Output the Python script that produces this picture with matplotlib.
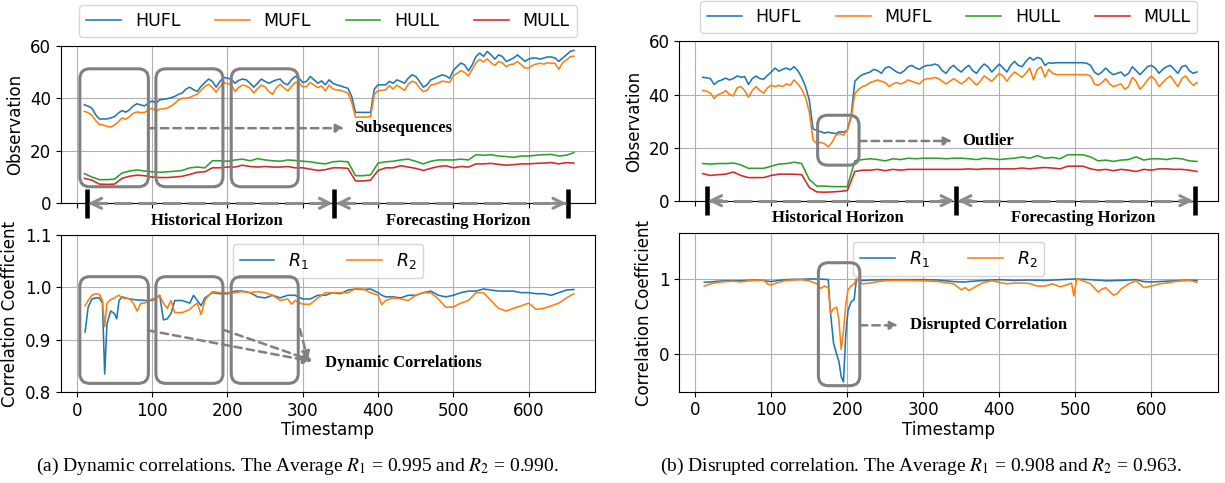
import numpy as np
import matplotlib
matplotlib.use('Agg')
import matplotlib.pyplot as plt
from matplotlib.patches import FancyBboxPatch

# timestamps
t5 = np.arange(10, 661, 5)
t10 = np.arange(10, 661, 10)

# (a) observations
hufl_a = [37.5, 37.0, 36.2, 33.7, 32.1, 32.1, 32.1, 32.5, 33.0, 34.3,
          35.3, 34.7, 35.6, 37.1, 37.9, 37.4, 37.1, 38.1, 39.0, 38.1,
          39.4, 39.6, 39.8, 40.2, 40.7, 41.5, 42.0, 43.5, 44.2, 43.2,
          42.6, 44.5, 46.0, 47.3, 46.4, 44.2, 46.4, 48.0, 47.6, 47.3,
          45.7, 46.8, 47.3, 47.0, 45.7, 44.2, 45.7, 47.3, 46.4, 45.7,
          46.4, 47.0, 47.3, 45.7, 45.1, 47.0, 48.3, 47.6, 46.0, 46.4,
          48.3, 47.0, 45.7, 46.6, 45.1, 47.0, 45.7, 45.1, 44.7, 44.2,
          43.8, 40.7, 34.6, 34.6, 34.6, 34.6, 34.6, 43.5, 45.1, 45.1,
          45.1, 46.4, 45.7, 47.0, 46.4, 45.7, 47.6, 48.9, 48.3, 46.4,
          44.2, 45.1, 47.0, 47.6, 48.3, 48.9, 48.5, 47.6, 50.6, 52.1,
          53.4, 52.7, 50.4, 52.7, 55.9, 57.2, 55.9, 57.8, 56.5, 54.9,
          56.5, 55.9, 54.0, 54.6, 55.3, 56.5, 55.3, 54.0, 54.9, 55.3,
          55.3, 54.9, 55.3, 55.7, 55.7, 55.3, 54.0, 55.3, 56.5, 57.8,
          58.2]
mufl_a = [35.0, 34.5, 33.5, 31.5, 30.0, 29.8, 29.3, 29.0, 29.8, 31.0,
          32.5, 32.0, 33.0, 34.3, 34.8, 34.5, 34.6, 35.5, 36.2, 35.2,
          35.8, 36.0, 36.2, 37.0, 38.0, 39.3, 40.0, 40.0, 40.3, 41.0,
          41.5, 43.0, 44.5, 45.3, 44.0, 42.3, 44.3, 46.0, 45.5, 45.2,
          42.5, 44.2, 45.0, 44.7, 43.8, 42.0, 43.7, 45.0, 44.3, 42.5,
          41.5, 44.0, 45.3, 44.0, 42.8, 44.5, 46.0, 45.8, 44.3, 44.5,
          46.0, 45.0, 44.0, 44.7, 42.8, 45.0, 43.5, 43.2, 43.0, 42.5,
          42.0, 38.5, 32.8, 32.8, 32.8, 32.8, 33.0, 41.5, 42.8, 43.0,
          43.2, 44.8, 43.5, 45.0, 44.0, 43.0, 45.3, 46.5, 46.0, 44.0,
          42.5, 43.0, 45.0, 45.3, 45.8, 46.5, 46.3, 46.0, 48.5, 49.5,
          50.5, 49.8, 48.5, 51.0, 53.5, 54.8, 53.8, 55.0, 53.5, 52.5,
          54.0, 53.5, 52.0, 52.8, 53.0, 54.0, 52.8, 51.5, 51.5, 52.5,
          53.0, 53.3, 53.0, 53.5, 53.3, 53.3, 51.0, 53.5, 54.5, 55.8,
          56.0]
hull_a = [11.3, 10.0, 9.0, 9.0, 9.2, 11.5, 12.3, 12.7, 12.3, 12.0,
          11.8, 12.0, 12.2, 12.5, 13.5, 13.8, 13.5, 16.2, 16.2, 16.0,
          16.5, 16.8, 16.2, 17.0, 16.5, 16.2, 16.0, 16.5, 16.3, 16.0,
          15.8, 15.3, 15.0, 15.8, 16.0, 15.8, 10.5, 10.5, 10.8, 15.3,
          15.8, 16.0, 16.5, 16.8, 16.0, 15.0, 16.0, 16.5, 16.5, 16.5,
          16.8, 16.5, 18.5, 18.3, 18.5, 18.0, 17.8, 17.5, 18.0, 18.0,
          18.3, 18.5, 18.6, 18.0, 18.3, 19.3]
mull_a = [9.5, 8.8, 7.3, 7.2, 7.3, 9.5, 10.3, 10.7, 10.5, 10.0,
          9.8, 9.8, 10.0, 10.3, 11.0, 11.8, 12.0, 13.5, 13.5, 13.8,
          13.8, 14.5, 14.0, 13.8, 14.0, 13.8, 13.8, 14.0, 13.5, 13.5,
          13.0, 12.5, 12.8, 13.5, 13.5, 13.3, 8.5, 8.5, 8.8, 12.5,
          13.5, 13.5, 14.3, 13.8, 13.3, 12.5, 13.3, 14.0, 14.3, 13.5,
          14.0, 13.8, 15.0, 15.0, 15.2, 14.8, 14.5, 14.7, 15.0, 15.0,
          15.2, 15.3, 15.5, 15.0, 15.5, 15.3]

# (b) observations
hufl_b = [46.5, 46.3, 46.0, 43.8, 45.0, 45.5, 46.2, 45.5, 46.0, 47.0,
          46.5, 46.8, 43.8, 46.0, 47.0, 46.0, 45.8, 47.2, 48.5, 50.0,
          48.8, 49.5, 50.0, 49.3, 50.5, 49.0, 46.5, 43.0, 38.0, 27.0,
          26.5, 26.0, 25.5, 25.8, 25.5, 25.3, 26.0, 25.8, 26.5, 32.0,
          45.0, 46.5, 47.5, 48.0, 48.5, 49.5, 49.0, 48.0, 50.0, 50.5,
          49.5, 48.5, 48.0, 49.0, 50.5, 51.0, 50.0, 49.5, 50.5, 51.0,
          51.0, 51.5, 51.0, 49.0, 48.0, 50.0, 51.0, 49.5, 48.5, 50.0,
          51.0, 49.0, 48.0, 50.0, 51.5, 50.5, 48.5, 50.0, 51.5, 50.0,
          48.5, 51.0, 52.5, 51.0, 50.5, 52.5, 54.0, 53.0, 54.0, 53.5,
          51.0, 52.0, 51.8, 52.0, 52.0, 52.0, 52.0, 52.0, 52.0, 52.0,
          52.0, 51.8, 51.0, 48.5, 47.5, 48.5, 50.0, 48.5, 47.5, 48.0,
          48.5, 47.0, 48.0, 50.5, 49.0, 47.5, 49.0, 50.5, 51.0, 50.0,
          48.0, 49.5, 50.5, 51.0, 49.5, 48.0, 50.5, 51.0, 49.0, 48.0,
          48.5]
mufl_b = [41.5, 41.3, 40.5, 38.5, 40.0, 40.5, 41.5, 40.0, 39.5, 42.5,
          43.0, 41.5, 39.0, 41.5, 43.0, 41.5, 40.5, 42.5, 43.5, 43.0,
          43.5, 43.0, 44.0, 43.5, 45.5, 44.0, 42.0, 39.0, 33.5, 22.8,
          21.5, 22.0, 21.5, 20.3, 22.0, 24.7, 25.3, 24.7, 26.6, 31.0,
          40.4, 42.0, 43.0, 43.5, 44.5, 45.0, 45.5, 45.0, 44.5, 43.0,
          44.0, 44.5, 44.0, 44.5, 45.5, 45.0, 44.5, 44.0, 45.5, 46.0,
          46.0, 46.5, 46.0, 45.0, 44.0, 45.0, 46.0, 45.0, 44.0, 45.0,
          46.5, 45.0, 43.5, 45.0, 47.0, 46.0, 45.0, 46.5, 48.0, 47.0,
          45.0, 47.0, 48.5, 47.5, 46.5, 48.0, 50.0, 45.5, 49.5, 50.5,
          46.5, 49.5, 48.0, 47.5, 47.5, 47.5, 47.5, 47.5, 47.5, 47.5,
          47.5, 47.5, 47.0, 44.0, 43.5, 44.5, 46.0, 44.0, 43.0, 43.5,
          44.0, 42.0, 43.0, 46.5, 45.0, 42.0, 43.5, 45.5, 47.0, 45.5,
          43.0, 44.5, 46.0, 47.0, 45.0, 43.0, 46.0, 47.0, 45.0, 43.5,
          44.5]
hull_b = [14.0, 13.8, 14.0, 14.0, 14.2, 13.5, 12.2, 12.2, 12.2, 13.0,
          13.8, 14.0, 14.5, 14.0, 8.0, 5.5, 5.5, 5.3, 5.3, 5.3,
          15.0, 15.5, 15.8, 15.5, 15.0, 15.8, 15.5, 16.0, 15.8, 16.0,
          16.0, 16.0, 15.8, 16.0, 16.0, 15.8, 15.5, 16.0, 15.8, 15.5,
          15.8, 16.0, 16.5, 16.0, 17.0, 16.0, 16.3, 15.8, 17.3, 17.3,
          17.3, 16.5, 15.0, 15.3, 14.8, 15.3, 15.5, 16.5, 15.3, 15.8,
          15.8, 15.5, 16.0, 15.8, 15.0, 14.8]
mull_b = [10.2, 9.5, 9.8, 10.0, 10.8, 9.5, 8.7, 8.7, 8.7, 9.5,
          10.0, 10.0, 10.0, 9.8, 5.0, 3.3, 3.2, 3.3, 3.5, 3.8,
          11.0, 11.5, 11.5, 11.8, 11.3, 11.8, 11.5, 11.8, 11.8, 11.8,
          11.8, 11.8, 11.8, 11.8, 11.8, 12.0, 11.8, 12.0, 12.0, 12.0,
          12.0, 12.0, 12.3, 12.0, 12.3, 12.5, 12.3, 12.0, 13.0, 13.0,
          13.0, 12.0, 11.5, 11.8, 11.3, 11.8, 11.5, 11.0, 11.8, 11.5,
          12.0, 12.0, 11.8, 11.8, 11.5, 11.0]

# (a) correlations
t_ra = [11, 15, 20, 25, 30, 34, 37, 40, 45, 50,
        53, 56, 60, 70, 75, 80, 85, 90, 100, 105,
        110, 115, 120, 125, 130, 140, 150, 155, 160, 165,
        170, 175, 180, 190, 200, 210, 220, 230, 240, 250,
        260, 270, 280, 285, 290, 300, 310, 320, 330, 340,
        350, 360, 370, 380, 390, 400, 405, 410, 420, 430,
        440, 450, 460, 470, 480, 490, 500, 510, 520, 530,
        540, 550, 560, 570, 580, 590, 600, 610, 620, 630,
        640, 650, 660]
r1_a = [0.915, 0.962, 0.978, 0.980, 0.980, 0.970, 0.835, 0.930, 0.955, 0.950,
        0.940, 0.975, 0.982, 0.978, 0.977, 0.976, 0.976, 0.975, 0.975, 0.980,
        0.985, 0.938, 0.940, 0.950, 0.975, 0.975, 0.970, 0.985, 0.975, 0.965,
        0.980, 0.985, 0.990, 0.988, 0.988, 0.993, 0.993, 0.990, 0.982, 0.980,
        0.985, 0.980, 0.985, 0.985, 0.985, 0.978, 0.978, 0.985, 0.985, 0.990,
        0.988, 0.995, 0.997, 0.996, 0.997, 0.990, 0.985, 0.982, 0.982, 0.980,
        0.985, 0.985, 0.990, 0.993, 0.985, 0.982, 0.985, 0.990, 0.993, 0.993,
        0.997, 0.995, 0.993, 0.993, 0.993, 0.990, 0.990, 0.988, 0.988, 0.985,
        0.990, 0.995, 0.996]
r2_a = [0.965, 0.975, 0.985, 0.988, 0.987, 0.975, 0.925, 0.970, 0.977, 0.980,
        0.983, 0.985, 0.980, 0.978, 0.970, 0.955, 0.970, 0.970, 0.978, 0.980,
        0.985, 0.970, 0.960, 0.975, 0.952, 0.952, 0.958, 0.965, 0.970, 0.948,
        0.975, 0.985, 0.992, 0.990, 0.990, 0.990, 0.992, 0.990, 0.992, 0.990,
        0.985, 0.975, 0.978, 0.968, 0.975, 0.968, 0.968, 0.980, 0.990, 0.990,
        0.990, 0.990, 0.998, 0.997, 0.990, 0.985, 0.967, 0.975, 0.980, 0.978,
        0.975, 0.985, 0.990, 0.990, 0.978, 0.962, 0.963, 0.970, 0.975, 0.990,
        0.990, 0.975, 0.960, 0.955, 0.960, 0.965, 0.970, 0.958, 0.960, 0.965,
        0.970, 0.980, 0.988]

# (b) correlations
t_rb = [12, 20, 30, 40, 50, 60, 70, 80, 90, 95,
        100, 110, 120, 130, 140, 150, 160, 165, 170, 175,
        178, 182, 186, 189, 192, 195, 198, 201, 205, 209,
        212, 220, 230, 240, 250, 260, 270, 280, 290, 300,
        310, 320, 330, 340, 350, 355, 360, 370, 380, 390,
        400, 410, 420, 430, 440, 450, 460, 470, 480, 490,
        495, 498, 502, 510, 520, 530, 535, 540, 550, 555,
        560, 570, 580, 590, 600, 610, 620, 630, 640, 650,
        660]
r1_b = [0.950, 0.955, 0.965, 0.970, 0.970, 0.970, 0.975, 0.980, 0.975, 0.965,
        0.960, 0.975, 0.985, 0.990, 0.990, 0.995, 0.995, 0.992, 0.990, 0.985,
        0.540, 0.140, 0.000, -0.100, -0.300, -0.370, 0.250, 0.580, 0.690, 0.720,
        0.990, 0.975, 0.980, 0.982, 0.985, 0.985, 0.985, 0.985, 0.985, 0.985,
        0.982, 0.980, 0.970, 0.960, 0.955, 0.955, 0.960, 0.968, 0.975, 0.980,
        0.985, 0.980, 0.975, 0.978, 0.980, 0.978, 0.975, 0.980, 0.985, 0.990,
        0.992, 0.993, 0.995, 0.990, 0.985, 0.978, 0.975, 0.970, 0.972, 0.975,
        0.975, 0.980, 0.985, 0.960, 0.955, 0.960, 0.965, 0.970, 0.975, 0.978,
        0.975]
r2_b = [0.900, 0.930, 0.950, 0.960, 0.965, 0.955, 0.970, 0.975, 0.980, 0.930,
        0.915, 0.950, 0.975, 0.980, 0.985, 0.970, 0.930, 0.870, 0.900, 0.880,
        0.540, 0.600, 0.620, 0.450, 0.060, 0.300, 0.650, 0.850, 0.900, 0.930,
        1.000, 0.930, 0.940, 0.960, 0.970, 0.975, 0.975, 0.975, 0.972, 0.970,
        0.965, 0.960, 0.945, 0.930, 0.850, 0.880, 0.840, 0.900, 0.950, 0.970,
        0.950, 0.930, 0.940, 0.940, 0.935, 0.900, 0.900, 0.930, 0.890, 0.920,
        0.940, 0.770, 1.000, 0.970, 0.930, 0.820, 0.860, 0.880, 0.780, 0.800,
        0.860, 0.930, 0.970, 0.880, 0.900, 0.930, 0.940, 0.960, 0.970, 0.975,
        0.950]

obs_names = ['HUFL', 'MUFL', 'HULL', 'MULL']
xticks = [0, 100, 200, 300, 400, 500, 600]
captions = [r'(a) Dynamic correlations. The Average $R_1$ = 0.995 and $R_2$ = 0.990.',
            r'(b) Disrupted correlation. The Average $R_1$ = 0.908 and $R_2$ = 0.963.']

GRAY = '#808080'
AGRAY = '#8c8c8c'
SERIF = 'Liberation Serif'
LW = 1.15

fig = plt.figure(figsize=(12.25, 4.83), dpi=100)
ax_a1 = fig.add_axes([0.0498, 0.5791, 0.4359, 0.3263])
ax_a2 = fig.add_axes([0.0498, 0.1878, 0.4359, 0.3257])
ax_b1 = fig.add_axes([0.5545, 0.5845, 0.4400, 0.3296])
ax_b2 = fig.add_axes([0.5545, 0.1890, 0.4400, 0.3280])


def rbox(ax, x0, x1, y0, y1, r_px=10):
    bb = ax.get_window_extent()
    xl, yl = ax.get_xlim(), ax.get_ylim()
    xu = (xl[1] - xl[0]) / bb.width
    yu = (yl[1] - yl[0]) / bb.height
    p = FancyBboxPatch((x0, y0), x1 - x0, y1 - y0,
                       boxstyle=f'round,pad=0,rounding_size={r_px * xu}',
                       mutation_aspect=yu / xu, fc='none', ec=GRAY, lw=2.2,
                       clip_on=False, zorder=6)
    ax.add_patch(p)


def darrow(ax, start, end):
    ax.annotate('', xy=end, xytext=start, annotation_clip=False,
                arrowprops=dict(arrowstyle='-|>', color=GRAY, lw=1.8, ls=(0, (3, 2)),
                                mutation_scale=12, shrinkA=0, shrinkB=0), zorder=7)


def horizons(ax, bars, ylen, ytext):
    for b in bars:
        ax.plot([b, b], [-ylen, ylen], color='black', lw=3.3, clip_on=False, zorder=7,
                solid_capstyle='butt')
    for a, b in [(bars[0], bars[1]), (bars[1], bars[2])]:
        ax.plot([a + 3, b - 3], [0, 0], color=AGRAY, lw=2.2, ls=(0, (6, 2)),
                clip_on=False, zorder=8)
        for p, q in [(a + 2, a + 20), (b - 2, b - 20)]:
            ax.annotate('', xy=(p, 0), xytext=(q, 0), annotation_clip=False,
                        arrowprops=dict(arrowstyle='->', color=AGRAY, lw=2.2,
                                        mutation_scale=18, shrinkA=0, shrinkB=0),
                        zorder=8)
    ax.text((bars[0] + bars[1]) / 2 + 8, ytext, 'Historical Horizon', ha='center', va='center',
            family=SERIF, weight='bold', fontsize=12, clip_on=False)
    ax.text((bars[1] + bars[2]) / 2 + 10, ytext, 'Forecasting Horizon', ha='center', va='center',
            family=SERIF, weight='bold', fontsize=12, clip_on=False)


def style(ax, ylabel, ylim, yticks, show_x):
    ax.set_xlim(-21, 688)
    ax.set_ylim(*ylim)
    ax.set_yticks(yticks)
    ax.set_xticks(xticks)
    ax.grid(True, color='#b0b0b0', lw=0.8)
    ax.set_axisbelow(True)
    ax.tick_params(labelsize=12)
    ax.set_ylabel(ylabel, fontsize=12)
    if show_x:
        ax.set_xlabel('Timestamp', fontsize=12, labelpad=1)
    else:
        ax.tick_params(labelbottom=False)


# observation panels
for ax, series in [(ax_a1, [hufl_a, mufl_a, hull_a, mull_a]),
                   (ax_b1, [hufl_b, mufl_b, hull_b, mull_b])]:
    for i, (name, ys) in enumerate(zip(obs_names, series)):
        xs = t5 if len(ys) == len(t5) else t10
        ax.plot(xs, ys, color=f'C{i}', lw=LW, label=name)
    style(ax, 'Observation', (0, 60), [0, 20, 40, 60], False)
    ax.legend(loc='lower center', bbox_to_anchor=(0.5, 1.0), ncol=4, fontsize=12.5,
              borderaxespad=0.5, columnspacing=2.0)

# correlation panels
for ax, tt, r1, r2 in [(ax_a2, t_ra, r1_a, r2_a), (ax_b2, t_rb, r1_b, r2_b)]:
    ax.plot(tt, r1, color='C0', lw=LW, label='$R_1$')
    ax.plot(tt, r2, color='C1', lw=LW, label='$R_2$')
    ax.legend(loc='upper center', ncol=2, fontsize=12.5, columnspacing=2.2)
style(ax_a2, 'Correlation Coefficient', (0.8, 1.1), [0.8, 0.9, 1.0, 1.1], True)
style(ax_b2, 'Correlation Coefficient', (-0.5, 1.6), [0, 1], True)

# annotations (a)
for x0, x1 in [(4, 95), (105, 194), (205, 294)]:
    rbox(ax_a1, x0, x1, 6.3, 51.2)
    rbox(ax_a2, x0, x1, 0.817, 1.0205)
darrow(ax_a1, (95, 28.6), (355, 28.6))
ax_a1.text(368, 28.6, 'Subsequences', family=SERIF, weight='bold', fontsize=12, va='center')
darrow(ax_a2, (95, 0.918), (312, 0.859))
darrow(ax_a2, (195, 0.919), (313, 0.860))
darrow(ax_a2, (296, 0.921), (307, 0.862))
ax_a2.text(330, 0.855, 'Dynamic Correlations', family=SERIF, weight='bold', fontsize=12, va='center')
horizons(ax_a1, [13, 342, 652], 5.5, -6.6)

# annotations (b)
rbox(ax_b1, 161, 215.5, 13.4, 32.2)
darrow(ax_b1, (215.5, 22.5), (338, 22.5))
ax_b1.text(351, 22.5, 'Outlier', family=SERIF, weight='bold', fontsize=12, va='center')
rbox(ax_b2, 162, 216.5, -0.42, 1.21)
darrow(ax_b2, (216.5, 0.38), (267, 0.38))
ax_b2.text(282, 0.38, 'Disrupted Correlation', family=SERIF, weight='bold', fontsize=12, va='center')
horizons(ax_b1, [15, 343, 657], 5.5, -6.6)

# captions
for xc, cap in zip([0.2425, 0.752], captions):
    fig.text(xc, 0.035, cap, ha='center', va='center', family=SERIF, fontsize=14,
             math_fontfamily='stix')

fig.savefig('out.png', dpi=100)
